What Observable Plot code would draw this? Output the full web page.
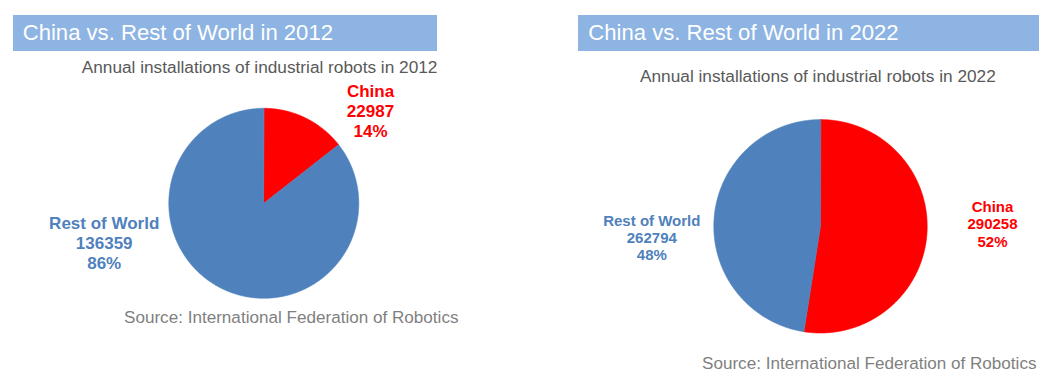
<!DOCTYPE html>
<html><head><meta charset="utf-8">
<script src="https://cdn.jsdelivr.net/npm/d3@7"></script>
<script src="https://cdn.jsdelivr.net/npm/@observablehq/plot@0.6"></script>
<style>
body{margin:0;background:#fff;font-family:"Liberation Sans",Arial,sans-serif;}
#page{position:relative;width:1057px;height:381px;overflow:hidden;background:#fff;}
.abs{position:absolute;white-space:nowrap;}
.banner{background:#8DB4E2;}
.title{color:#fff;font-size:22.1px;line-height:22.1px;}
.sub{color:#595959;font-size:17.25px;line-height:17.25px;}
.src{color:#7F7F7F;font-size:17.1px;line-height:17.1px;}
</style></head><body><div id="page"></div>
<script>
// ---- data ----
const names = ["China", "Rest of World"];
const colors = ["#FF0000", "#4F81BD"];
const values2012 = [22987, 136359];
const values2022 = [290258, 262794];
const titles = ["China vs. Rest of World in 2012", "China vs. Rest of World in 2022"];
const subtitles = ["Annual installations of industrial robots in 2012", "Annual installations of industrial robots in 2022"];
const sourceText = "Source: International Federation of Robotics";

const page = document.getElementById("page");

function addDiv(cls, text, left, top, width, height) {
  const d = document.createElement("div");
  d.className = "abs " + cls;
  d.textContent = text || "";
  d.style.left = left + "px";
  d.style.top = top + "px";
  if (width != null) d.style.width = width + "px";
  if (height != null) d.style.height = height + "px";
  page.appendChild(d);
  return d;
}

function pieChart(values, cfg) {
  const total = d3.sum(values);
  const rows = names.map((n, i) => ({name: n, value: values[i]}));
  const arcs = d3.pie().sort(null).value(d => d.value)(rows);
  const pts = [];
  for (const a of arcs) {
    pts.push({name: a.data.name, u: 0, v: 0});
    const n = Math.max(2, Math.ceil((a.endAngle - a.startAngle) / (Math.PI / 360)));
    for (let k = 0; k <= n; k++) {
      const t = a.startAngle + (a.endAngle - a.startAngle) * k / n;
      pts.push({name: a.data.name, u: Math.sin(t), v: Math.cos(t)});
    }
  }
  const labels = rows.map((r, i) => ({
    name: r.name,
    u: cfg.labelPos[i][0],
    v: cfg.labelPos[i][1],
    text: `${r.name}\n${r.value}\n${Math.round(r.value / total * 100)}%`
  }));
  const {w, h, cx, cy, r} = cfg;
  const svg = Plot.plot({
    width: w, height: h, margin: 0,
    style: {background: "transparent", fontFamily: "Liberation Sans, Arial, sans-serif", overflow: "visible", maxWidth: "none"},
    x: {domain: [-cx / r, (w - cx) / r], axis: null},
    y: {domain: [(cy - h) / r, cy / r], axis: null},
    color: {domain: names, range: colors},
    marks: [
      Plot.line(pts, {x: "u", y: "v", z: "name", fill: "name", stroke: "name", strokeWidth: 0.6, curve: "linear-closed"}),
      Plot.text(labels, {x: "u", y: "v", text: "text", fill: "name", fontSize: cfg.fontSize, fontWeight: "bold", lineHeight: cfg.lineHeight, lineAnchor: "middle", textAnchor: "middle"})
    ]
  });
  const holder = addDiv("", "", cfg.left, 0, w, h);
  holder.appendChild(svg);
}

// left panel
pieChart(values2012, {
  left: 0, w: 528, h: 381, cx: 263.3, cy: 202.8, r: 95,
  fontSize: 17, lineHeight: 1.16,
  labelPos: [[1.123, 0.974], [-1.68, -0.416]]
});
// right panel
pieChart(values2022, {
  left: 529, w: 528, h: 381, cx: 291, cy: 225.8, r: 106.7,
  fontSize: 15, lineHeight: 1.15,
  labelPos: [[1.612, 0.022], [-1.581, -0.104]]
});

// titles, subtitles, sources
addDiv("banner", "", 13.3, 14.7, 424, 36);
addDiv("banner", "", 578.3, 14.7, 461, 36);
addDiv("title", titles[0], 22.7, 22.0);
addDiv("title", titles[1], 588.3, 22.0);
addDiv("sub", subtitles[0], 81.7, 58.7);
addDiv("sub", subtitles[1], 640, 68.1);
addDiv("src", sourceText, 124, 308.8);
addDiv("src", sourceText, 702, 354.8);
</script></body></html>
